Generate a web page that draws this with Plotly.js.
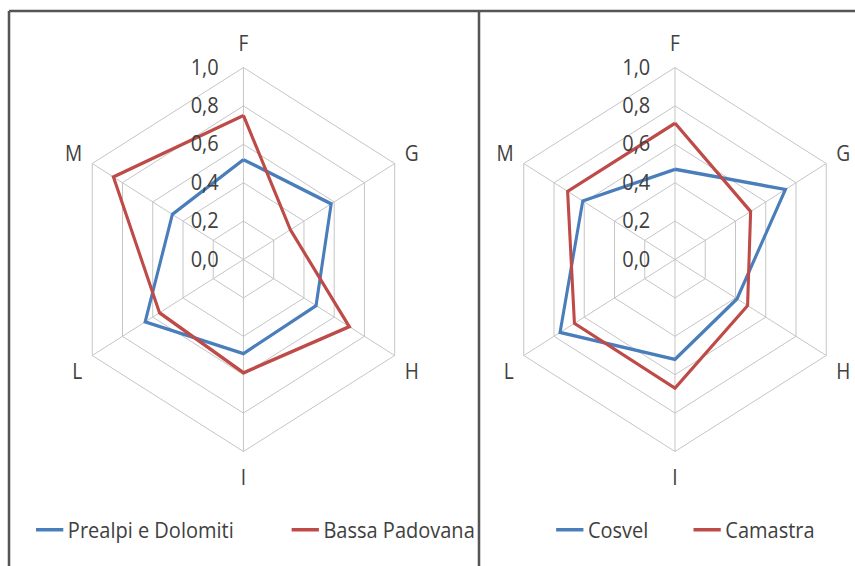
<!DOCTYPE html>
<html>
<head>
<meta charset="utf-8">
<script src="https://cdn.plot.ly/plotly-3.0.1.min.js"></script>
<style>
html,body{margin:0;padding:0;background:#fff;overflow:hidden;width:855px;height:566px;}
#wrap{width:855px;height:566px;overflow:hidden;position:relative;}
#chart{width:940px;height:566px;transform:scaleX(0.9096);transform-origin:0 0;}
</style>
</head>
<body>
<div id="wrap"><div id="chart"></div></div>
<script>
const categories = ['F', 'G', 'H', 'I', 'L', 'M'];
const prealpi = [0.52, 0.58, 0.48, 0.49, 0.65, 0.47];
const bassaPadovana = [0.75, 0.31, 0.70, 0.59, 0.555, 0.86];
const cosvel = [0.47, 0.73, 0.41, 0.52, 0.76, 0.61];
const camastra = [0.71, 0.50, 0.48, 0.67, 0.665, 0.71];
const radialTicks = [0, 0.2, 0.4, 0.6, 0.8, 1.0];

const BLUE = '#4a7ebb';
const RED = '#be4b48';
const GRID = '#c2c2c2';
const TXT = '#404040';
const FONT = '"Open Sans", Lato, sans-serif';
const W = 940, H = 566;

function closed(a) { return a.concat([a[0]]); }

function trace(name, vals, color, subplot, legend) {
  return {
    type: 'scatterpolar', mode: 'lines', name: name,
    r: closed(vals), theta: closed(categories),
    line: {color: color, width: 3.4},
    subplot: subplot, legend: legend, hoverinfo: 'skip'
  };
}

const data = [
  trace('Prealpi e Dolomiti', prealpi, BLUE, 'polar', 'legend'),
  trace('Bassa Padovana', bassaPadovana, RED, 'polar', 'legend'),
  trace('Cosvel', cosvel, BLUE, 'polar2', 'legend2'),
  trace('Camastra', camastra, RED, 'polar2', 'legend2')
];

function polar(xd) {
  return {
    domain: {x: xd, y: [0.2023, 0.8807]},
    gridshape: 'linear',
    bgcolor: '#fff',
    radialaxis: {
      range: [0, 1], tickvals: radialTicks, tickformat: '.1f',
      angle: 90, tickangle: 90, side: 'counterclockwise',
      showline: false, ticks: 'outside', ticklen: 19, tickcolor: 'rgba(0,0,0,0)',
      gridcolor: GRID, gridwidth: 1,
      tickfont: {family: FONT, size: 22, color: TXT}
    },
    angularaxis: {
      type: 'category', categoryarray: categories,
      rotation: 90, direction: 'clockwise',
      showline: true, linecolor: GRID, linewidth: 1,
      gridcolor: GRID, gridwidth: 1,
      ticks: 'outside', ticklen: 8, tickcolor: 'rgba(0,0,0,0)',
      tickfont: {family: FONT, size: 21, color: TXT}
    }
  };
}

const legendFont = {family: FONT, size: 22, color: TXT};

const layout = {
  width: W, height: H,
  margin: {l: 0, r: 0, t: 0, b: 0, autoexpand: false},
  paper_bgcolor: '#fff',
  separators: ', ',
  showlegend: true,
  font: {family: FONT, color: TXT},
  polar: polar([0.0805, 0.4890]),
  polar2: polar([0.5852, 0.9937]),
  legend: {
    orientation: 'h', x: 34.6/W, xanchor: 'left', y: 1 - 530/H, yanchor: 'middle',
    font: legendFont, entrywidth: 236, entrywidthmode: 'pixels',
    bgcolor: 'rgba(0,0,0,0)'
  },
  legend2: {
    orientation: 'h', x: 606.4/W, xanchor: 'left', y: 1 - 530/H, yanchor: 'middle',
    font: legendFont, entrywidth: 106, entrywidthmode: 'pixels',
    bgcolor: 'rgba(0,0,0,0)'
  },
  shapes: [
    {type: 'line', xref: 'paper', yref: 'paper', x0: 9.9/W, x1: 9.9/W, y0: 1 - 11/H, y1: 0, line: {color: '#555', width: 2.8}},
    {type: 'line', xref: 'paper', yref: 'paper', x0: 9.9/W, x1: 1, y0: 1 - 11/H, y1: 1 - 11/H, line: {color: '#555', width: 2.5}},
    {type: 'line', xref: 'paper', yref: 'paper', x0: 526.6/W, x1: 526.6/W, y0: 1 - 11/H, y1: 0, line: {color: '#555', width: 2.8}}
  ]
};

Plotly.newPlot('chart', data, layout, {displayModeBar: false, staticPlot: true});
</script>
</body>
</html>
